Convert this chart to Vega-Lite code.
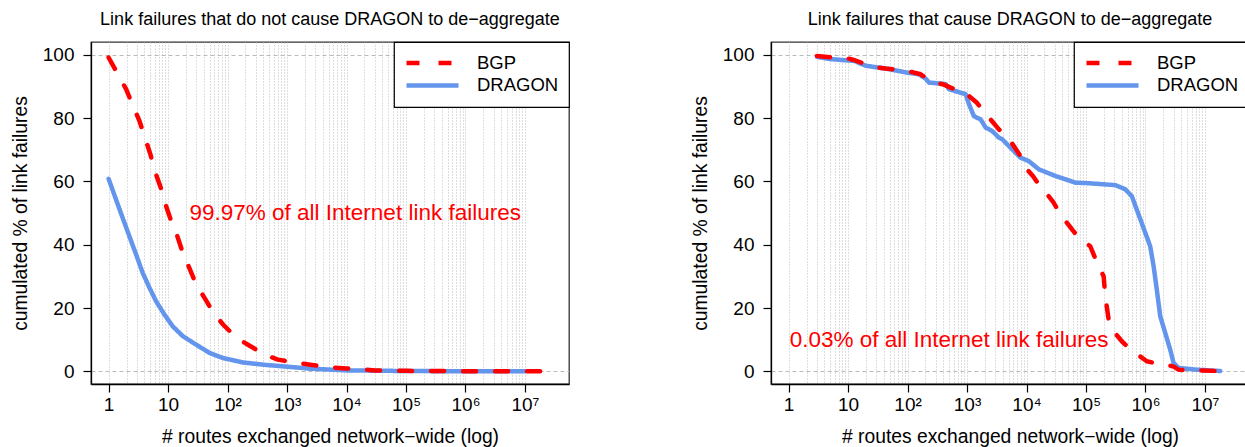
{
  "$schema": "https://vega.github.io/schema/vega-lite/v6.json",
  "padding": {"left": 10, "top": 10, "right": 0, "bottom": 0},
  "background": "white",
  "datasets": {
    "left": [
      {"series": "BGP", "routes": 1, "pct": 99.1},
      {"series": "BGP", "routes": 1.33, "pct": 94.9},
      {"series": "BGP", "routes": 1.97, "pct": 89.1},
      {"series": "BGP", "routes": 2.44, "pct": 84.9},
      {"series": "BGP", "routes": 3.3, "pct": 79.1},
      {"series": "BGP", "routes": 4.0, "pct": 74.3},
      {"series": "BGP", "routes": 5.05, "pct": 68.5},
      {"series": "BGP", "routes": 5.9, "pct": 63.6},
      {"series": "BGP", "routes": 7.6, "pct": 57.8},
      {"series": "BGP", "routes": 9.0, "pct": 52.9},
      {"series": "BGP", "routes": 11.3, "pct": 47.4},
      {"series": "BGP", "routes": 12.5, "pct": 45.5},
      {"series": "BGP", "routes": 14.0, "pct": 43.2},
      {"series": "BGP", "routes": 17.7, "pct": 37.4},
      {"series": "BGP", "routes": 22.1, "pct": 33.2},
      {"series": "BGP", "routes": 29.8, "pct": 27.4},
      {"series": "BGP", "routes": 41, "pct": 23.2},
      {"series": "BGP", "routes": 58, "pct": 18.5},
      {"series": "BGP", "routes": 84, "pct": 14.8},
      {"series": "BGP", "routes": 140, "pct": 10.6},
      {"series": "BGP", "routes": 220, "pct": 8.4},
      {"series": "BGP", "routes": 420, "pct": 5.3},
      {"series": "BGP", "routes": 700, "pct": 3.7},
      {"series": "BGP", "routes": 1500, "pct": 2.6},
      {"series": "BGP", "routes": 2450, "pct": 2.1},
      {"series": "BGP", "routes": 5000, "pct": 1.3},
      {"series": "BGP", "routes": 10000, "pct": 0.9},
      {"series": "BGP", "routes": 30000, "pct": 0.3},
      {"series": "BGP", "routes": 100000, "pct": 0.15},
      {"series": "BGP", "routes": 1000000, "pct": 0.05},
      {"series": "BGP", "routes": 30000000, "pct": 0},
      {"series": "DRAGON", "routes": 1, "pct": 60.8},
      {"series": "DRAGON", "routes": 1.33, "pct": 54.3},
      {"series": "DRAGON", "routes": 1.72, "pct": 48.5},
      {"series": "DRAGON", "routes": 2.23, "pct": 42.7},
      {"series": "DRAGON", "routes": 2.9, "pct": 36.9},
      {"series": "DRAGON", "routes": 3.74, "pct": 31.1},
      {"series": "DRAGON", "routes": 4.86, "pct": 26.4},
      {"series": "DRAGON", "routes": 6.3, "pct": 22.1},
      {"series": "DRAGON", "routes": 8.7, "pct": 17.9},
      {"series": "DRAGON", "routes": 12, "pct": 14.2},
      {"series": "DRAGON", "routes": 17.7, "pct": 11.1},
      {"series": "DRAGON", "routes": 29.8, "pct": 8.4},
      {"series": "DRAGON", "routes": 50, "pct": 5.8},
      {"series": "DRAGON", "routes": 84, "pct": 4.2},
      {"series": "DRAGON", "routes": 182, "pct": 2.8},
      {"series": "DRAGON", "routes": 400, "pct": 2.1},
      {"series": "DRAGON", "routes": 1100, "pct": 1.4},
      {"series": "DRAGON", "routes": 2400, "pct": 0.85},
      {"series": "DRAGON", "routes": 10000, "pct": 0.3},
      {"series": "DRAGON", "routes": 100000, "pct": 0.1},
      {"series": "DRAGON", "routes": 1000000, "pct": 0.02},
      {"series": "DRAGON", "routes": 10000000, "pct": 0}
    ],
    "right": [
      {"series": "BGP", "routes": 3, "pct": 99.6},
      {"series": "BGP", "routes": 5, "pct": 99.2},
      {"series": "BGP", "routes": 10, "pct": 98.8},
      {"series": "BGP", "routes": 12, "pct": 98.4},
      {"series": "BGP", "routes": 20, "pct": 97.0},
      {"series": "BGP", "routes": 30, "pct": 96.0},
      {"series": "BGP", "routes": 43, "pct": 95.6},
      {"series": "BGP", "routes": 77, "pct": 95.1},
      {"series": "BGP", "routes": 120, "pct": 94.5},
      {"series": "BGP", "routes": 166, "pct": 93.8},
      {"series": "BGP", "routes": 261, "pct": 91.4},
      {"series": "BGP", "routes": 400, "pct": 90.6},
      {"series": "BGP", "routes": 531, "pct": 89.6},
      {"series": "BGP", "routes": 948, "pct": 87.8},
      {"series": "BGP", "routes": 1450, "pct": 84.9},
      {"series": "BGP", "routes": 2110, "pct": 81.2},
      {"series": "BGP", "routes": 2500, "pct": 79.5},
      {"series": "BGP", "routes": 3430, "pct": 76.4},
      {"series": "BGP", "routes": 5380, "pct": 72.7},
      {"series": "BGP", "routes": 7900, "pct": 68.0},
      {"series": "BGP", "routes": 10200, "pct": 63.8},
      {"series": "BGP", "routes": 13000, "pct": 61.5},
      {"series": "BGP", "routes": 16100, "pct": 59.0},
      {"series": "BGP", "routes": 22200, "pct": 55.9},
      {"series": "BGP", "routes": 28000, "pct": 53.5},
      {"series": "BGP", "routes": 34700, "pct": 50.6},
      {"series": "BGP", "routes": 47900, "pct": 46.9},
      {"series": "BGP", "routes": 60000, "pct": 44.5},
      {"series": "BGP", "routes": 75400, "pct": 42.2},
      {"series": "BGP", "routes": 118000, "pct": 39.5},
      {"series": "BGP", "routes": 153000, "pct": 34.3},
      {"series": "BGP", "routes": 198000, "pct": 30.0},
      {"series": "BGP", "routes": 211000, "pct": 23.7},
      {"series": "BGP", "routes": 240000, "pct": 16.4},
      {"series": "BGP", "routes": 292000, "pct": 12.6},
      {"series": "BGP", "routes": 400000, "pct": 9.5},
      {"series": "BGP", "routes": 520000, "pct": 7.5},
      {"series": "BGP", "routes": 680000, "pct": 5.8},
      {"series": "BGP", "routes": 1050000, "pct": 3.2},
      {"series": "BGP", "routes": 1500000, "pct": 2.5},
      {"series": "BGP", "routes": 2150000, "pct": 2.1},
      {"series": "BGP", "routes": 3000000, "pct": 1.5},
      {"series": "BGP", "routes": 3600000, "pct": 0.5},
      {"series": "BGP", "routes": 5000000, "pct": 0.4},
      {"series": "BGP", "routes": 8300000, "pct": 0.3},
      {"series": "BGP", "routes": 16900000, "pct": 0.1},
      {"series": "DRAGON", "routes": 3, "pct": 99.3},
      {"series": "DRAGON", "routes": 5, "pct": 98.6},
      {"series": "DRAGON", "routes": 13, "pct": 98.0},
      {"series": "DRAGON", "routes": 16, "pct": 97.2},
      {"series": "DRAGON", "routes": 20, "pct": 96.5},
      {"series": "DRAGON", "routes": 30, "pct": 96.0},
      {"series": "DRAGON", "routes": 50, "pct": 95.4},
      {"series": "DRAGON", "routes": 93, "pct": 94.4},
      {"series": "DRAGON", "routes": 155, "pct": 93.8},
      {"series": "DRAGON", "routes": 200, "pct": 92.5},
      {"series": "DRAGON", "routes": 229, "pct": 91.2},
      {"series": "DRAGON", "routes": 436, "pct": 90.7},
      {"series": "DRAGON", "routes": 497, "pct": 89.1},
      {"series": "DRAGON", "routes": 948, "pct": 87.5},
      {"series": "DRAGON", "routes": 1080, "pct": 84.3},
      {"series": "DRAGON", "routes": 1306, "pct": 80.6},
      {"series": "DRAGON", "routes": 1500, "pct": 80.0},
      {"series": "DRAGON", "routes": 1690, "pct": 79.6},
      {"series": "DRAGON", "routes": 2050, "pct": 77.0},
      {"series": "DRAGON", "routes": 2650, "pct": 75.9},
      {"series": "DRAGON", "routes": 3430, "pct": 73.8},
      {"series": "DRAGON", "routes": 3900, "pct": 73.3},
      {"series": "DRAGON", "routes": 5730, "pct": 70.1},
      {"series": "DRAGON", "routes": 7900, "pct": 67.5},
      {"series": "DRAGON", "routes": 10900, "pct": 66.4},
      {"series": "DRAGON", "routes": 16100, "pct": 63.8},
      {"series": "DRAGON", "routes": 30600, "pct": 61.7},
      {"series": "DRAGON", "routes": 66300, "pct": 59.6},
      {"series": "DRAGON", "routes": 111000, "pct": 59.4},
      {"series": "DRAGON", "routes": 311000, "pct": 58.8},
      {"series": "DRAGON", "routes": 457000, "pct": 57.5},
      {"series": "DRAGON", "routes": 590000, "pct": 55.3},
      {"series": "DRAGON", "routes": 820000, "pct": 48.0},
      {"series": "DRAGON", "routes": 990000, "pct": 43.8},
      {"series": "DRAGON", "routes": 1200000, "pct": 39.5},
      {"series": "DRAGON", "routes": 1370000, "pct": 33.2},
      {"series": "DRAGON", "routes": 1550000, "pct": 25.8},
      {"series": "DRAGON", "routes": 1770000, "pct": 17.4},
      {"series": "DRAGON", "routes": 2150000, "pct": 12.1},
      {"series": "DRAGON", "routes": 2600000, "pct": 6.9},
      {"series": "DRAGON", "routes": 2960000, "pct": 2.7},
      {"series": "DRAGON", "routes": 3590000, "pct": 1.1},
      {"series": "DRAGON", "routes": 6850000, "pct": 0.55},
      {"series": "DRAGON", "routes": 18000000, "pct": 0.1}
    ]
  },
  "config": {
    "font": "Liberation Sans",
    "view": {"stroke": "#333333", "strokeWidth": 1.3},
    "axis": {
      "labelFont": "Liberation Sans",
      "titleFont": "Liberation Sans",
      "labelFontSize": 19,
      "titleFontSize": 19.3,
      "titleFontWeight": "normal",
      "labelColor": "black",
      "titleColor": "black",
      "tickColor": "black",
      "domainColor": "black",
      "domainWidth": 1.3,
      "tickWidth": 1.2,
      "tickSize": 8
    },
    "title": {"font": "Liberation Sans", "fontSize": 18, "fontWeight": "normal", "color": "black", "offset": 12.5, "frame": "group", "anchor": "middle"},
    "legend": {
      "strokeColor": "black",
      "strokeWidth": 1.2,
      "fillColor": "white",
      "padding": 10,
      "cornerRadius": 0,
      "symbolType": "stroke",
      "symbolSize": 2704,
      "symbolStrokeWidth": 4.5,
      "labelFont": "Liberation Sans",
      "labelFontSize": 18.5,
      "labelColor": "black",
      "labelOffset": 16,
      "clipHeight": 22,
      "rowPadding": 0.4,
      "offset": 0
    }
  },
  "spacing": 119,
  "resolve": {"scale": {"color": "independent", "strokeDash": "independent"}, "legend": {"color": "independent", "strokeDash": "independent"}},
  "hconcat": [
    {
      "title": {"text": "Link failures that do not cause DRAGON to de−aggregate"},
      "width": 478,
      "height": 342,
      "data": {"name": "left"},
      "encoding": {
        "x": {
          "field": "routes", "type": "quantitative",
          "scale": {"type": "log", "domain": [0.506, 55000000], "nice": false},
          "axis": {
            "title": "# routes exchanged network−wide (log)",
            "values": [1,2,3,4,5,6,7,8,9,10,20,30,40,50,60,70,80,90,100,200,300,400,500,600,700,800,900,1000,2000,3000,4000,5000,6000,7000,8000,9000,10000,20000,30000,40000,50000,60000,70000,80000,90000,100000,200000,300000,400000,500000,600000,700000,800000,900000,1000000,2000000,3000000,4000000,5000000,6000000,7000000,8000000,9000000,10000000],
            "labelExpr": "datum.value == 1 ? '1' : datum.value == 10 ? '10' : datum.value == 100 ? '10²' : datum.value == 1000 ? '10³' : datum.value == 10000 ? '10⁴' : datum.value == 100000 ? '10⁵' : datum.value == 1000000 ? '10⁶' : datum.value == 10000000 ? '10⁷' : ''",
            "tickOpacity": {"condition": {"test": "indexof([1,10,100,1000,10000,100000,1000000,10000000], datum.value) >= 0", "value": 1}, "value": 0},
            "grid": true, "gridDash": [1, 2], "gridColor": "#bdbdbd", "gridWidth": 1,
            "labelOverlap": false, "labelFlush": false, "labelBound": false,
            "labelPadding": 3, "titlePadding": 13
          }
        },
        "y": {
          "field": "pct", "type": "quantitative",
          "scale": {"domain": [-4, 104], "nice": false, "zero": false},
          "axis": {
            "title": "cumulated % of link failures",
            "values": [0, 20, 40, 60, 80, 100],
            "grid": true, "gridDash": [4, 3], "gridColor": "#bbbbbb",
            "gridOpacity": {"condition": {"test": "datum.value == 0 || datum.value == 100", "value": 1}, "value": 0},
            "labelPadding": 9, "titlePadding": 12
          }
        }
      },
      "layer": [
        {
          "transform": [{"filter": "datum.series == 'DRAGON'"}],
          "mark": {"type": "line", "strokeWidth": 4.5, "strokeCap": "round", "strokeJoin": "round"},
          "encoding": {
            "color": {"field": "series", "type": "nominal", "scale": {"domain": ["BGP", "DRAGON"], "range": ["#ff0000", "#6495ed"]}, "legend": {"orient": "top-right", "title": null}},
            "strokeDash": {"field": "series", "type": "nominal", "scale": {"domain": ["BGP", "DRAGON"], "range": [[13, 19], [1, 0]]}, "legend": {"orient": "top-right", "title": null}}
          }
        },
        {
          "transform": [{"filter": "datum.series == 'BGP'"}],
          "mark": {"type": "line", "strokeWidth": 4.5, "strokeCap": "round", "strokeJoin": "round"},
          "encoding": {
            "color": {"field": "series", "type": "nominal", "scale": {"domain": ["BGP", "DRAGON"], "range": ["#ff0000", "#6495ed"]}, "legend": {"orient": "top-right", "title": null}},
            "strokeDash": {"field": "series", "type": "nominal", "scale": {"domain": ["BGP", "DRAGON"], "range": [[13, 19], [1, 0]]}, "legend": {"orient": "top-right", "title": null}}
          }
        },
        {
          "data": {"values": [{"routes": 14000, "pct": 50, "label": "99.97% of all Internet link failures"}]},
          "mark": {"type": "text", "color": "#ff0000", "fontSize": 22.5, "font": "Liberation Sans", "align": "center", "baseline": "middle"},
          "encoding": {"text": {"field": "label"}}
        }
      ]
    },
    {
      "title": {"text": "Link failures that cause DRAGON to de−aggregate"},
      "width": 478,
      "height": 342,
      "data": {"name": "right"},
      "encoding": {
        "x": {
          "field": "routes", "type": "quantitative",
          "scale": {"type": "log", "domain": [0.506, 55000000], "nice": false},
          "axis": {
            "title": "# routes exchanged network−wide (log)",
            "values": [1,2,3,4,5,6,7,8,9,10,20,30,40,50,60,70,80,90,100,200,300,400,500,600,700,800,900,1000,2000,3000,4000,5000,6000,7000,8000,9000,10000,20000,30000,40000,50000,60000,70000,80000,90000,100000,200000,300000,400000,500000,600000,700000,800000,900000,1000000,2000000,3000000,4000000,5000000,6000000,7000000,8000000,9000000,10000000],
            "labelExpr": "datum.value == 1 ? '1' : datum.value == 10 ? '10' : datum.value == 100 ? '10²' : datum.value == 1000 ? '10³' : datum.value == 10000 ? '10⁴' : datum.value == 100000 ? '10⁵' : datum.value == 1000000 ? '10⁶' : datum.value == 10000000 ? '10⁷' : ''",
            "tickOpacity": {"condition": {"test": "indexof([1,10,100,1000,10000,100000,1000000,10000000], datum.value) >= 0", "value": 1}, "value": 0},
            "grid": true, "gridDash": [1, 2], "gridColor": "#bdbdbd", "gridWidth": 1,
            "labelOverlap": false, "labelFlush": false, "labelBound": false,
            "labelPadding": 3, "titlePadding": 13
          }
        },
        "y": {
          "field": "pct", "type": "quantitative",
          "scale": {"domain": [-4, 104], "nice": false, "zero": false},
          "axis": {
            "title": "cumulated % of link failures",
            "values": [0, 20, 40, 60, 80, 100],
            "grid": true, "gridDash": [4, 3], "gridColor": "#bbbbbb",
            "gridOpacity": {"condition": {"test": "datum.value == 0 || datum.value == 100", "value": 1}, "value": 0},
            "labelPadding": 9, "titlePadding": 12
          }
        }
      },
      "layer": [
        {
          "transform": [{"filter": "datum.series == 'DRAGON'"}],
          "mark": {"type": "line", "strokeWidth": 4.5, "strokeCap": "round", "strokeJoin": "round"},
          "encoding": {
            "color": {"field": "series", "type": "nominal", "scale": {"domain": ["BGP", "DRAGON"], "range": ["#ff0000", "#6495ed"]}, "legend": {"orient": "top-right", "title": null}},
            "strokeDash": {"field": "series", "type": "nominal", "scale": {"domain": ["BGP", "DRAGON"], "range": [[13, 19], [1, 0]]}, "legend": {"orient": "top-right", "title": null}}
          }
        },
        {
          "transform": [{"filter": "datum.series == 'BGP'"}],
          "mark": {"type": "line", "strokeWidth": 4.5, "strokeCap": "round", "strokeJoin": "round"},
          "encoding": {
            "color": {"field": "series", "type": "nominal", "scale": {"domain": ["BGP", "DRAGON"], "range": ["#ff0000", "#6495ed"]}, "legend": {"orient": "top-right", "title": null}},
            "strokeDash": {"field": "series", "type": "nominal", "scale": {"domain": ["BGP", "DRAGON"], "range": [[13, 19], [1, 0]]}, "legend": {"orient": "top-right", "title": null}}
          }
        },
        {
          "data": {"values": [{"routes": 500, "pct": 10, "label": "0.03% of all Internet link failures"}]},
          "mark": {"type": "text", "color": "#ff0000", "fontSize": 22.5, "font": "Liberation Sans", "align": "center", "baseline": "middle"},
          "encoding": {"text": {"field": "label"}}
        }
      ]
    }
  ]
}
